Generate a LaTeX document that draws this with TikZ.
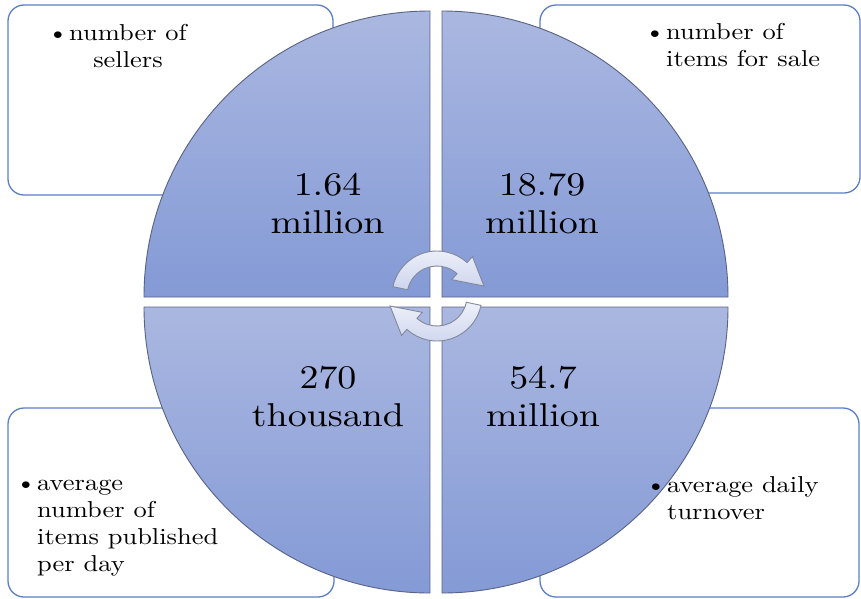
\documentclass[tikz,border=0pt]{standalone}
\usepackage{fontspec}
\usetikzlibrary{calc}
\newfontfamily\widefont{lmroman10-regular.otf}[FakeStretch=1.15]

\definecolor{boxline}{RGB}{91,127,199}
\definecolor{pietop}{RGB}{170,183,224}
\definecolor{piebot}{RGB}{132,154,214}
\definecolor{pieline}{RGB}{88,98,130}
\definecolor{arrowtop}{RGB}{238,241,250}
\definecolor{arrowbot}{RGB}{206,213,237}
\definecolor{arrowline}{RGB}{130,136,155}

\begin{document}
\begin{tikzpicture}[x=1pt, y=-1pt,
    infobox/.style={draw=boxline, line width=1.3pt, rounded corners=16pt, fill=white},
    quarter/.style={top color=pietop, bottom color=piebot, draw=pieline, line width=0.9pt},
    turn/.style={top color=arrowtop, bottom color=arrowbot, draw=arrowline, line width=0.9pt},
    bignum/.style={align=center, anchor=north, inner sep=0pt, font=\widefont\fontsize{33}{38}\selectfont},
    note/.style={inner sep=0pt, font=\widefont\fontsize{23}{27}\selectfont}]

    \useasboundingbox (0,0) rectangle (861,598);

    % 定义主要坐标点
    \coordinate (G) at (436,302);   % 圆心（缝隙中心）
    \coordinate (TL) at (430,297);  % 左上扇形的角
    \coordinate (TR) at (442,297);  % 右上扇形的角
    \coordinate (BL) at (430,307);  % 左下扇形的角
    \coordinate (BR) at (442,307);  % 右下扇形的角
    \coordinate (T) at (437,296);   % 上方旋转箭头的中心

    % 1. 四个圆角文本框
    \draw[infobox] (8,5) rectangle (333,195);
    \draw[infobox] (540,5) rectangle (860,193);
    \draw[infobox] (8,408) rectangle (334,597);
    \draw[infobox] (540,408) rectangle (859,597);

    % 2. 四个扇形
    \path[quarter] (TL) -- ++(-286,0) arc[start angle=180, end angle=270, radius=286] -- cycle;
    \path[quarter] (TR) -- ++(0,-286) arc[start angle=270, end angle=360, radius=286] -- cycle;
    \path[quarter] (BR) -- ++(286,0) arc[start angle=0, end angle=90, radius=286] -- cycle;
    \path[quarter] (BL) -- ++(0,286) arc[start angle=90, end angle=180, radius=286] -- cycle;

    % 3. 扇形中的数字
    \node[bignum] (sellnum) at (327.5,173) {1.64\\million};
    \node[bignum] (salenum) at (542,173) {18.79\\million};
    \node[bignum] (pubnum) at (328,366) {270\\thousand};
    \node[bignum] (turnnum) at (543,366) {54.7\\million};

    % 4. 文本框中的说明
    \node[note, align=center, anchor=north] (selltxt) at (128,24) {\llap{\textbullet\kern1pt}number of\\sellers};
    \node[note, align=left, anchor=north west] (saletxt) at (666,23) {\llap{\textbullet\kern1pt}number of\\items for sale};
    \node[note, align=left, anchor=north west] (pubtxt) at (37,480) {\llap{\textbullet\kern1pt}average\\number of\\items published\\per day};
    \node[note, align=left, anchor=north west] (turntxt) at (667,476) {\llap{\textbullet\kern1pt}average daily\\turnover};

    % 5. 中间的两个旋转箭头
    \path[turn] ($(T)+(-168:45)$) arc[start angle=-168, end angle=-48, radius=45]
        -- ($(T)+(-48:53)$) -- ($(T)+(-12:48)$) -- ($(T)+(-48:22)$) -- ($(T)+(-48:30)$)
        arc[start angle=-48, end angle=-168, radius=30] -- cycle;
    \begin{scope}[rotate around={180:(G)}]
        \path[turn] ($(T)+(-168:45)$) arc[start angle=-168, end angle=-48, radius=45]
            -- ($(T)+(-48:53)$) -- ($(T)+(-12:48)$) -- ($(T)+(-48:22)$) -- ($(T)+(-48:30)$)
            arc[start angle=-48, end angle=-168, radius=30] -- cycle;
    \end{scope}

\end{tikzpicture}
\end{document}
